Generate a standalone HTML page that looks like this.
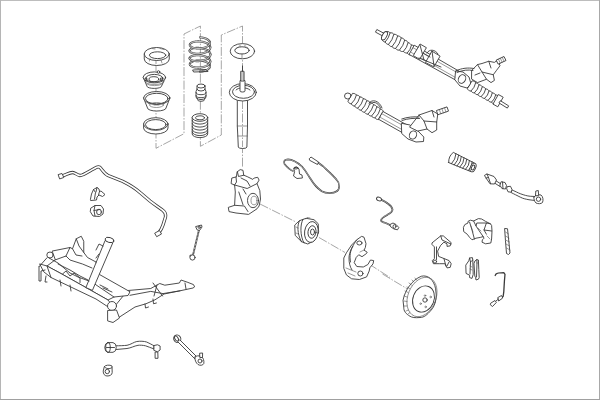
<!DOCTYPE html>
<html><head><meta charset="utf-8">
<style>
html,body{margin:0;padding:0;background:#fff;width:600px;height:400px;overflow:hidden}
svg{display:block}
.l{fill:#fff;stroke:#3a3a3a;stroke-width:0.9;stroke-linejoin:round;stroke-linecap:round}
.n{fill:none;stroke:#3a3a3a;stroke-width:0.9;stroke-linejoin:round;stroke-linecap:round}
.t{fill:none;stroke:#555;stroke-width:0.6;stroke-linecap:round}
.d{fill:none;stroke:#808080;stroke-width:0.7;stroke-dasharray:9 1.5 1.5 1.5}
</style></head><body>
<svg width="600" height="400" viewBox="0 0 600 400">
<!-- frame -->
<rect x="0" y="0" width="600" height="1" fill="#bdbdbd"/>
<rect x="0" y="0" width="1" height="400" fill="#b5b5b5"/>
<rect x="599" y="0" width="1" height="400" fill="#a8a8a8"/>
<rect x="0" y="399" width="600" height="1" fill="#a0a0a0"/>
<!-- dashed construction lines -->
<path class="d" d="M156 62V148.3L184 133.7V34L200.4 26V146.3L221.3 135V35L242.5 26V168"/>
<path class="d" d="M260 204L296 222M319 237.5L345 252.5M369 264L390 277.5"/>
<path class="d" d="M382.5 274L407.5 289"/>

<!-- Left stack: ring 1 -->
<g>
<path class="l" d="M144.25 54V59A12.5 6.5 0 0 0 169.25 59V54Z"/>
<ellipse class="l" cx="156.75" cy="54" rx="12.5" ry="6.5"/>
<ellipse class="n" cx="157.6" cy="55.2" rx="8.2" ry="3.4"/>
<path class="t" d="M152 48.5l3 0.5M160 48.5l4 1M156 60.5v3M161 60l1 3M150 59l-0.5 2"/>
</g>
<!-- mount 2 -->
<g>
<path class="l" d="M143.25 77.4L147.1 86.4A7.15 2 0 0 0 161.4 86.4L165.6 77.4Z"/>
<ellipse class="l" cx="154.4" cy="77.4" rx="11.2" ry="5.5"/>
<ellipse class="n" cx="154.4" cy="78.2" rx="8.5" ry="3.8"/>
<ellipse class="n" cx="153.9" cy="79.2" rx="4.9" ry="2.5"/>
<path class="n" d="M145.5 78h1.3v2.6h-1.3zM161 78h1.7v2.6H161z"/>
<circle class="l" cx="158.5" cy="72" r="1.3"/>
<path class="t" d="M147 84A8 2.5 0 0 0 162 84M145 81.5A9.5 3 0 0 0 164 81.5"/>
</g>
<!-- cup 3 -->
<g>
<path class="l" d="M143.6 98L147.5 108A9.2 3 0 0 0 166 108L169.9 98Z"/>
<ellipse class="l" cx="156.75" cy="98" rx="13.1" ry="6.5"/>
<ellipse class="n" cx="156.75" cy="98.6" rx="11.3" ry="5.3"/>
<ellipse class="t" cx="156.5" cy="105" rx="7" ry="2.5"/>
<path class="t" d="M149 104l-2 -3M164 104l2 -3M154 105h5"/>
</g>
<!-- ring 4 -->
<g>
<path class="l" d="M143.6 124V128A12.2 6 0 0 0 168 128V124Z"/>
<ellipse class="l" cx="155.8" cy="124" rx="12.2" ry="6.3"/>
<ellipse class="l" cx="155.8" cy="124.6" rx="10.3" ry="5"/>
</g>

<!-- spring -->
<g>
<path style="fill:none;stroke:#444;stroke-width:2.1;stroke-linecap:round" d="M200.00 37.40 L200.56 37.44 L201.12 37.49 L201.67 37.56 L202.22 37.64 L202.76 37.74 L203.30 37.85 L203.82 37.97 L204.33 38.11 L204.83 38.26 L205.32 38.43 L205.78 38.60 L206.23 38.79 L206.66 38.99 L207.07 39.21 L207.45 39.43 L207.82 39.66 L208.15 39.90 L208.46 40.15 L208.75 40.40 L209.01 40.67 L209.23 40.94 L209.43 41.21 L209.60 41.49 L209.74 41.78 L209.85 42.07 L209.92 42.36 L209.97 42.65M189.86 44.94 L189.86 44.72 L189.89 44.50 L189.96 44.29 L190.06 44.07 L190.19 43.86 L190.36 43.65 L190.55 43.45 L190.77 43.25 L191.03 43.06 L191.31 42.88 L191.62 42.70 L191.96 42.54 L192.32 42.38 L192.71 42.23 L193.12 42.09 L193.56 41.97 L194.01 41.85 L194.48 41.75 L194.98 41.66 L195.48 41.58 L196.01 41.52 L196.54 41.47 L197.09 41.43 L197.65 41.41 L198.21 41.41 L198.78 41.41 L199.36 41.44 L199.94 41.47 L200.51 41.53 L201.09 41.59 L201.66 41.68 L202.23 41.77 L202.79 41.88 L203.35 42.01 L203.89 42.15 L204.42 42.30 L204.93 42.47 L205.43 42.65 L205.92 42.85 L206.38 43.05 L206.83 43.27 L207.25 43.50 L207.65 43.74 L208.02 43.99 L208.37 44.24 L208.70 44.51 L208.99 44.79 L209.26 45.07 L209.50 45.36 L209.71 45.65 L209.88 45.95 L210.03 46.26 L210.14 46.57 L210.22 46.88 L210.27 47.19M189.63 50.85 L189.63 50.65 L189.67 50.45 L189.73 50.26 L189.83 50.07 L189.97 49.88 L190.13 49.70 L190.33 49.52 L190.55 49.34 L190.81 49.17 L191.10 49.01 L191.41 48.86 L191.76 48.72 L192.12 48.58 L192.52 48.45 L192.94 48.34 L193.38 48.23 L193.84 48.14 L194.32 48.06 L194.82 47.99 L195.34 47.93 L195.87 47.89 L196.42 47.86 L196.98 47.84 L197.54 47.84 L198.12 47.86 L198.70 47.88 L199.28 47.93 L199.87 47.98 L200.46 48.06 L201.04 48.14 L201.63 48.24 L202.20 48.36 L202.78 48.49 L203.34 48.63 L203.89 48.79 L204.43 48.96 L204.95 49.15 L205.46 49.35 L205.95 49.56 L206.43 49.78 L206.88 50.02 L207.31 50.26 L207.72 50.52 L208.10 50.79 L208.45 51.06 L208.78 51.35 L209.08 51.64 L209.36 51.94 L209.60 52.24 L209.81 52.56 L209.99 52.87 L210.14 53.19 L210.25 53.52 L210.34 53.84 L210.39 54.17 L210.40 54.50M189.63 58.35 L189.63 58.15 L189.66 57.96 L189.73 57.77 L189.83 57.57 L189.96 57.38 L190.12 57.20 L190.32 57.01 L190.54 56.84 L190.80 56.67 L191.08 56.50 L191.40 56.34 L191.74 56.20 L192.10 56.05 L192.50 55.92 L192.91 55.80 L193.35 55.69 L193.81 55.59 L194.29 55.50 L194.79 55.43 L195.30 55.36 L195.83 55.31 L196.37 55.28 L196.93 55.25 L197.49 55.24 L198.06 55.25 L198.64 55.27 L199.22 55.30 L199.81 55.35 L200.39 55.41 L200.97 55.48 L201.55 55.58 L202.13 55.68 L202.69 55.80 L203.25 55.93 L203.80 56.08 L204.34 56.24 L204.86 56.41 L205.36 56.60 L205.85 56.80 L206.32 57.01 L206.77 57.23 L207.20 57.46 L207.60 57.71 L207.98 57.96 L208.34 58.22 L208.66 58.49 L208.96 58.77 L209.23 59.06 L209.48 59.35 L209.69 59.64 L209.87 59.95 L210.01 60.25 L210.13 60.56 L210.21 60.87 L210.26 61.18 L210.28 61.50M189.86 64.28 L189.86 64.06 L189.89 63.84 L189.95 63.62 L190.04 63.40 L190.17 63.19 L190.33 62.98 L190.52 62.77 L190.73 62.57 L190.98 62.38 L191.26 62.19 L191.56 62.00 L191.89 61.83 L192.25 61.66 L192.63 61.51 L193.04 61.36 L193.46 61.22 L193.91 61.10 L194.38 60.99 L194.86 60.88 L195.36 60.80 L195.88 60.72 L196.41 60.66 L196.95 60.61 L197.49 60.57 L198.05 60.55 L198.61 60.54 L199.18 60.55 L199.75 60.57 L200.32 60.61 L200.88 60.66 L201.45 60.72 L202.01 60.80 L202.56 60.90 L203.10 61.01 L203.64 61.13 L204.16 61.26 L204.67 61.41 L205.16 61.57 L205.64 61.75 L206.10 61.94 L206.53 62.13 L206.95 62.34 L207.35 62.56 L207.72 62.79 L208.06 63.03 L208.38 63.28 L208.68 63.53 L208.94 63.79 L209.18 64.06 L209.38 64.34 L209.56 64.62 L209.71 64.90 L209.82 65.19 L209.91 65.48 L209.96 65.77 L209.98 66.06"/>
<path style="fill:none;stroke:#fff;stroke-width:0.9;stroke-linecap:round" d="M200.00 37.40 L200.56 37.44 L201.12 37.49 L201.67 37.56 L202.22 37.64 L202.76 37.74 L203.30 37.85 L203.82 37.97 L204.33 38.11 L204.83 38.26 L205.32 38.43 L205.78 38.60 L206.23 38.79 L206.66 38.99 L207.07 39.21 L207.45 39.43 L207.82 39.66 L208.15 39.90 L208.46 40.15 L208.75 40.40 L209.01 40.67 L209.23 40.94 L209.43 41.21 L209.60 41.49 L209.74 41.78 L209.85 42.07 L209.92 42.36 L209.97 42.65M189.86 44.94 L189.86 44.72 L189.89 44.50 L189.96 44.29 L190.06 44.07 L190.19 43.86 L190.36 43.65 L190.55 43.45 L190.77 43.25 L191.03 43.06 L191.31 42.88 L191.62 42.70 L191.96 42.54 L192.32 42.38 L192.71 42.23 L193.12 42.09 L193.56 41.97 L194.01 41.85 L194.48 41.75 L194.98 41.66 L195.48 41.58 L196.01 41.52 L196.54 41.47 L197.09 41.43 L197.65 41.41 L198.21 41.41 L198.78 41.41 L199.36 41.44 L199.94 41.47 L200.51 41.53 L201.09 41.59 L201.66 41.68 L202.23 41.77 L202.79 41.88 L203.35 42.01 L203.89 42.15 L204.42 42.30 L204.93 42.47 L205.43 42.65 L205.92 42.85 L206.38 43.05 L206.83 43.27 L207.25 43.50 L207.65 43.74 L208.02 43.99 L208.37 44.24 L208.70 44.51 L208.99 44.79 L209.26 45.07 L209.50 45.36 L209.71 45.65 L209.88 45.95 L210.03 46.26 L210.14 46.57 L210.22 46.88 L210.27 47.19M189.63 50.85 L189.63 50.65 L189.67 50.45 L189.73 50.26 L189.83 50.07 L189.97 49.88 L190.13 49.70 L190.33 49.52 L190.55 49.34 L190.81 49.17 L191.10 49.01 L191.41 48.86 L191.76 48.72 L192.12 48.58 L192.52 48.45 L192.94 48.34 L193.38 48.23 L193.84 48.14 L194.32 48.06 L194.82 47.99 L195.34 47.93 L195.87 47.89 L196.42 47.86 L196.98 47.84 L197.54 47.84 L198.12 47.86 L198.70 47.88 L199.28 47.93 L199.87 47.98 L200.46 48.06 L201.04 48.14 L201.63 48.24 L202.20 48.36 L202.78 48.49 L203.34 48.63 L203.89 48.79 L204.43 48.96 L204.95 49.15 L205.46 49.35 L205.95 49.56 L206.43 49.78 L206.88 50.02 L207.31 50.26 L207.72 50.52 L208.10 50.79 L208.45 51.06 L208.78 51.35 L209.08 51.64 L209.36 51.94 L209.60 52.24 L209.81 52.56 L209.99 52.87 L210.14 53.19 L210.25 53.52 L210.34 53.84 L210.39 54.17 L210.40 54.50M189.63 58.35 L189.63 58.15 L189.66 57.96 L189.73 57.77 L189.83 57.57 L189.96 57.38 L190.12 57.20 L190.32 57.01 L190.54 56.84 L190.80 56.67 L191.08 56.50 L191.40 56.34 L191.74 56.20 L192.10 56.05 L192.50 55.92 L192.91 55.80 L193.35 55.69 L193.81 55.59 L194.29 55.50 L194.79 55.43 L195.30 55.36 L195.83 55.31 L196.37 55.28 L196.93 55.25 L197.49 55.24 L198.06 55.25 L198.64 55.27 L199.22 55.30 L199.81 55.35 L200.39 55.41 L200.97 55.48 L201.55 55.58 L202.13 55.68 L202.69 55.80 L203.25 55.93 L203.80 56.08 L204.34 56.24 L204.86 56.41 L205.36 56.60 L205.85 56.80 L206.32 57.01 L206.77 57.23 L207.20 57.46 L207.60 57.71 L207.98 57.96 L208.34 58.22 L208.66 58.49 L208.96 58.77 L209.23 59.06 L209.48 59.35 L209.69 59.64 L209.87 59.95 L210.01 60.25 L210.13 60.56 L210.21 60.87 L210.26 61.18 L210.28 61.50M189.86 64.28 L189.86 64.06 L189.89 63.84 L189.95 63.62 L190.04 63.40 L190.17 63.19 L190.33 62.98 L190.52 62.77 L190.73 62.57 L190.98 62.38 L191.26 62.19 L191.56 62.00 L191.89 61.83 L192.25 61.66 L192.63 61.51 L193.04 61.36 L193.46 61.22 L193.91 61.10 L194.38 60.99 L194.86 60.88 L195.36 60.80 L195.88 60.72 L196.41 60.66 L196.95 60.61 L197.49 60.57 L198.05 60.55 L198.61 60.54 L199.18 60.55 L199.75 60.57 L200.32 60.61 L200.88 60.66 L201.45 60.72 L202.01 60.80 L202.56 60.90 L203.10 61.01 L203.64 61.13 L204.16 61.26 L204.67 61.41 L205.16 61.57 L205.64 61.75 L206.10 61.94 L206.53 62.13 L206.95 62.34 L207.35 62.56 L207.72 62.79 L208.06 63.03 L208.38 63.28 L208.68 63.53 L208.94 63.79 L209.18 64.06 L209.38 64.34 L209.56 64.62 L209.71 64.90 L209.82 65.19 L209.91 65.48 L209.96 65.77 L209.98 66.06"/>
<path style="fill:none;stroke:#444;stroke-width:2.1;stroke-linecap:round" d="M209.97 42.65 L209.98 42.94 L209.96 43.23 L209.91 43.52 L209.82 43.81 L209.71 44.10 L209.56 44.38 L209.38 44.66 L209.18 44.94 L208.94 45.21 L208.68 45.47 L208.38 45.72 L208.06 45.97 L207.72 46.21 L207.35 46.44 L206.95 46.66 L206.53 46.87 L206.10 47.06 L205.64 47.25 L205.16 47.43 L204.67 47.59 L204.16 47.74 L203.64 47.87 L203.10 47.99 L202.56 48.10 L202.01 48.20 L201.45 48.28 L200.88 48.34 L200.32 48.39 L199.75 48.43 L199.18 48.45 L198.61 48.46 L198.05 48.45 L197.49 48.43 L196.95 48.39 L196.41 48.34 L195.88 48.28 L195.36 48.20 L194.86 48.12 L194.38 48.01 L193.91 47.90 L193.46 47.78 L193.04 47.64 L192.63 47.49 L192.25 47.34 L191.89 47.17 L191.56 47.00 L191.26 46.81 L190.98 46.62 L190.73 46.43 L190.52 46.23 L190.33 46.02 L190.17 45.81 L190.04 45.60 L189.95 45.38 L189.89 45.16 L189.86 44.94M210.27 47.19 L210.28 47.50 L210.26 47.82 L210.21 48.13 L210.13 48.44 L210.01 48.75 L209.87 49.05 L209.69 49.36 L209.48 49.65 L209.23 49.94 L208.96 50.23 L208.66 50.51 L208.34 50.78 L207.98 51.04 L207.60 51.29 L207.20 51.54 L206.77 51.77 L206.32 51.99 L205.85 52.20 L205.36 52.40 L204.86 52.59 L204.34 52.76 L203.80 52.92 L203.25 53.07 L202.69 53.20 L202.13 53.32 L201.55 53.42 L200.97 53.52 L200.39 53.59 L199.81 53.65 L199.22 53.70 L198.64 53.73 L198.06 53.75 L197.49 53.76 L196.93 53.75 L196.37 53.72 L195.83 53.69 L195.30 53.64 L194.79 53.57 L194.29 53.50 L193.81 53.41 L193.35 53.31 L192.91 53.20 L192.50 53.08 L192.10 52.95 L191.74 52.80 L191.40 52.66 L191.08 52.50 L190.80 52.33 L190.54 52.16 L190.32 51.99 L190.12 51.80 L189.96 51.62 L189.83 51.43 L189.73 51.23 L189.66 51.04 L189.63 50.85M210.40 54.50 L210.39 54.83 L210.34 55.16 L210.25 55.48 L210.14 55.81 L209.99 56.13 L209.81 56.44 L209.60 56.76 L209.36 57.06 L209.08 57.36 L208.78 57.65 L208.45 57.94 L208.10 58.21 L207.72 58.48 L207.31 58.74 L206.88 58.98 L206.43 59.22 L205.95 59.44 L205.46 59.65 L204.95 59.85 L204.43 60.04 L203.89 60.21 L203.34 60.37 L202.78 60.51 L202.20 60.64 L201.63 60.76 L201.04 60.86 L200.46 60.94 L199.87 61.02 L199.28 61.07 L198.70 61.12 L198.12 61.14 L197.54 61.16 L196.98 61.16 L196.42 61.14 L195.87 61.11 L195.34 61.07 L194.82 61.01 L194.32 60.94 L193.84 60.86 L193.38 60.77 L192.94 60.66 L192.52 60.55 L192.12 60.42 L191.76 60.28 L191.41 60.14 L191.10 59.99 L190.81 59.83 L190.55 59.66 L190.33 59.48 L190.13 59.30 L189.97 59.12 L189.83 58.93 L189.73 58.74 L189.67 58.55 L189.63 58.35M210.28 61.50 L210.27 61.81 L210.22 62.12 L210.14 62.43 L210.03 62.74 L209.88 63.05 L209.71 63.35 L209.50 63.64 L209.26 63.93 L208.99 64.21 L208.70 64.49 L208.37 64.76 L208.02 65.01 L207.65 65.26 L207.25 65.50 L206.83 65.73 L206.38 65.95 L205.92 66.15 L205.43 66.35 L204.93 66.53 L204.42 66.70 L203.89 66.85 L203.35 66.99 L202.79 67.12 L202.23 67.23 L201.66 67.32 L201.09 67.41 L200.51 67.47 L199.94 67.53 L199.36 67.56 L198.78 67.59 L198.21 67.59 L197.65 67.59 L197.09 67.57 L196.54 67.53 L196.01 67.48 L195.48 67.42 L194.98 67.34 L194.48 67.25 L194.01 67.15 L193.56 67.03 L193.12 66.91 L192.71 66.77 L192.32 66.62 L191.96 66.46 L191.62 66.30 L191.31 66.12 L191.03 65.94 L190.77 65.75 L190.55 65.55 L190.36 65.35 L190.19 65.14 L190.06 64.93 L189.96 64.71 L189.89 64.50 L189.86 64.28M209.98 66.06 L209.97 66.35 L209.92 66.64 L209.85 66.93 L209.74 67.22 L209.60 67.51 L209.43 67.79 L209.23 68.06 L209.01 68.33 L208.75 68.60 L208.46 68.85 L208.15 69.10 L207.82 69.34 L207.45 69.57 L207.07 69.79 L206.66 70.01 L206.23 70.21 L205.78 70.40 L205.32 70.57 L204.83 70.74 L204.33 70.89 L203.82 71.03 L203.30 71.15 L202.76 71.26 L202.22 71.36 L201.67 71.44 L201.12 71.51 L200.56 71.56 L200.00 71.60"/>
<path style="fill:none;stroke:#fff;stroke-width:0.9;stroke-linecap:round" d="M209.97 42.65 L209.98 42.94 L209.96 43.23 L209.91 43.52 L209.82 43.81 L209.71 44.10 L209.56 44.38 L209.38 44.66 L209.18 44.94 L208.94 45.21 L208.68 45.47 L208.38 45.72 L208.06 45.97 L207.72 46.21 L207.35 46.44 L206.95 46.66 L206.53 46.87 L206.10 47.06 L205.64 47.25 L205.16 47.43 L204.67 47.59 L204.16 47.74 L203.64 47.87 L203.10 47.99 L202.56 48.10 L202.01 48.20 L201.45 48.28 L200.88 48.34 L200.32 48.39 L199.75 48.43 L199.18 48.45 L198.61 48.46 L198.05 48.45 L197.49 48.43 L196.95 48.39 L196.41 48.34 L195.88 48.28 L195.36 48.20 L194.86 48.12 L194.38 48.01 L193.91 47.90 L193.46 47.78 L193.04 47.64 L192.63 47.49 L192.25 47.34 L191.89 47.17 L191.56 47.00 L191.26 46.81 L190.98 46.62 L190.73 46.43 L190.52 46.23 L190.33 46.02 L190.17 45.81 L190.04 45.60 L189.95 45.38 L189.89 45.16 L189.86 44.94M210.27 47.19 L210.28 47.50 L210.26 47.82 L210.21 48.13 L210.13 48.44 L210.01 48.75 L209.87 49.05 L209.69 49.36 L209.48 49.65 L209.23 49.94 L208.96 50.23 L208.66 50.51 L208.34 50.78 L207.98 51.04 L207.60 51.29 L207.20 51.54 L206.77 51.77 L206.32 51.99 L205.85 52.20 L205.36 52.40 L204.86 52.59 L204.34 52.76 L203.80 52.92 L203.25 53.07 L202.69 53.20 L202.13 53.32 L201.55 53.42 L200.97 53.52 L200.39 53.59 L199.81 53.65 L199.22 53.70 L198.64 53.73 L198.06 53.75 L197.49 53.76 L196.93 53.75 L196.37 53.72 L195.83 53.69 L195.30 53.64 L194.79 53.57 L194.29 53.50 L193.81 53.41 L193.35 53.31 L192.91 53.20 L192.50 53.08 L192.10 52.95 L191.74 52.80 L191.40 52.66 L191.08 52.50 L190.80 52.33 L190.54 52.16 L190.32 51.99 L190.12 51.80 L189.96 51.62 L189.83 51.43 L189.73 51.23 L189.66 51.04 L189.63 50.85M210.40 54.50 L210.39 54.83 L210.34 55.16 L210.25 55.48 L210.14 55.81 L209.99 56.13 L209.81 56.44 L209.60 56.76 L209.36 57.06 L209.08 57.36 L208.78 57.65 L208.45 57.94 L208.10 58.21 L207.72 58.48 L207.31 58.74 L206.88 58.98 L206.43 59.22 L205.95 59.44 L205.46 59.65 L204.95 59.85 L204.43 60.04 L203.89 60.21 L203.34 60.37 L202.78 60.51 L202.20 60.64 L201.63 60.76 L201.04 60.86 L200.46 60.94 L199.87 61.02 L199.28 61.07 L198.70 61.12 L198.12 61.14 L197.54 61.16 L196.98 61.16 L196.42 61.14 L195.87 61.11 L195.34 61.07 L194.82 61.01 L194.32 60.94 L193.84 60.86 L193.38 60.77 L192.94 60.66 L192.52 60.55 L192.12 60.42 L191.76 60.28 L191.41 60.14 L191.10 59.99 L190.81 59.83 L190.55 59.66 L190.33 59.48 L190.13 59.30 L189.97 59.12 L189.83 58.93 L189.73 58.74 L189.67 58.55 L189.63 58.35M210.28 61.50 L210.27 61.81 L210.22 62.12 L210.14 62.43 L210.03 62.74 L209.88 63.05 L209.71 63.35 L209.50 63.64 L209.26 63.93 L208.99 64.21 L208.70 64.49 L208.37 64.76 L208.02 65.01 L207.65 65.26 L207.25 65.50 L206.83 65.73 L206.38 65.95 L205.92 66.15 L205.43 66.35 L204.93 66.53 L204.42 66.70 L203.89 66.85 L203.35 66.99 L202.79 67.12 L202.23 67.23 L201.66 67.32 L201.09 67.41 L200.51 67.47 L199.94 67.53 L199.36 67.56 L198.78 67.59 L198.21 67.59 L197.65 67.59 L197.09 67.57 L196.54 67.53 L196.01 67.48 L195.48 67.42 L194.98 67.34 L194.48 67.25 L194.01 67.15 L193.56 67.03 L193.12 66.91 L192.71 66.77 L192.32 66.62 L191.96 66.46 L191.62 66.30 L191.31 66.12 L191.03 65.94 L190.77 65.75 L190.55 65.55 L190.36 65.35 L190.19 65.14 L190.06 64.93 L189.96 64.71 L189.89 64.50 L189.86 64.28M209.98 66.06 L209.97 66.35 L209.92 66.64 L209.85 66.93 L209.74 67.22 L209.60 67.51 L209.43 67.79 L209.23 68.06 L209.01 68.33 L208.75 68.60 L208.46 68.85 L208.15 69.10 L207.82 69.34 L207.45 69.57 L207.07 69.79 L206.66 70.01 L206.23 70.21 L205.78 70.40 L205.32 70.57 L204.83 70.74 L204.33 70.89 L203.82 71.03 L203.30 71.15 L202.76 71.26 L202.22 71.36 L201.67 71.44 L201.12 71.51 L200.56 71.56 L200.00 71.60"/>
<path class="n" d="M193 70L206 69.5L208 71.5L194 72Z"/>
</g>

<!-- bump stop -->
<g>
<path class="l" d="M197 86V89L196 91.5V97L197.5 99.5A3.5 1.8 0 0 0 204.5 99.5L206 97V91.5L205 89V86Z"/>
<ellipse class="l" cx="201" cy="86" rx="4" ry="2"/>
<path class="n" d="M197 89A4 2 0 0 0 205 89M196 92.5A5 2.2 0 0 0 206 92.5M196 95.5A5 2.2 0 0 0 206 95.5M196.8 98A4.3 2 0 0 0 205.2 98"/>
</g>
<!-- dust boot -->
<g>
<path class="l" d="M192.2 117.5V134A7.75 3.6 0 0 0 207.7 134V117.5Z"/>
<ellipse class="l" cx="199.95" cy="117.5" rx="7.75" ry="3.8"/>
<ellipse class="n" cx="199.95" cy="117.8" rx="4.5" ry="2"/>
<path class="n" d="M192.2 120.5A7.75 3.6 0 0 0 207.7 120.5M192.2 123.5A7.75 3.6 0 0 0 207.7 123.5M192.2 126.5A7.75 3.6 0 0 0 207.7 126.5M192.2 129.5A7.75 3.6 0 0 0 207.7 129.5M192.2 132A7.75 3.6 0 0 0 207.7 132"/>
</g>

<!-- right seat ring -->
<g>
<ellipse class="l" cx="242.4" cy="51.2" rx="12.2" ry="7.6"/>
<ellipse class="n" cx="242" cy="50.4" rx="7.2" ry="3.6"/>
<path class="t" d="M236 49l2 -2M247 47l1.5 2M240 46.8l0 -1.5M245 46.8l0 -1.5M242 53.8v4"/>
</g>

<!-- strut -->
<g>
<path class="l" d="M237.3 97V126L237.8 136L238.3 147A4.3 1.5 0 0 0 246.9 147L247.2 136L247.5 126V97Z"/>
<path class="t" d="M237.3 126H247.5M237.8 136H247.2"/><path class="d" d="M242.5 100V147"/>
<ellipse class="l" cx="242.8" cy="92.3" rx="13.5" ry="8.7"/>
<ellipse class="n" cx="243.5" cy="91.8" rx="11" ry="6.5"/>
<path class="n" d="M236 90C238 87 247 87 250 90"/>
<path class="l" d="M240 81V91A2.5 1 0 0 0 245 91V81Z"/>
<path class="l" d="M241.1 71.25H244V81H241.1Z"/>
<path class="t" d="M241.1 73H244M241.1 75H244M241.1 77H244M241.1 79H244"/>
<path class="n" d="M242.5 66V71.25"/>
</g>

<!-- knuckle -->
<g>
<path class="l" d="M237.4 171.7L240.2 169.6L243 170.3L243.7 175.2L247.2 176.6L252.8 179.4L254.2 178L257.7 177.3L259.1 180.1L257 183.6L259.8 190.6L260.5 199L259.1 206L257 208.8L248.6 214.4L236 213L229 211.6L228.3 207.4L234.6 205.3L235.3 192L234.6 185L231.1 183.6L231.8 178L236 177Z"/>
<path class="n" d="M237.4 171.7L238.5 176.5L243.7 175.2M236 177L236.5 182L234.6 185M234.6 185L247.2 188.5L257 183.6M238.8 192L243 204.6M234.6 205.3L244.4 206L248 211.6M243 189L246 194"/>
<ellipse class="l" cx="253" cy="200.5" rx="5.5" ry="7.2"/>
<ellipse class="t" cx="254" cy="200.5" rx="3" ry="4.3"/>
<path class="n" d="M241 178L247 181L250 186"/>
</g>

<!-- ABS sensor -->
<g>
<path class="n" style="stroke-width:1.6" d="M293 171C290 170 287 167 284.5 164C283 161 285 159.5 288 159.4C292 159.5 298 163 302 166.5C306 171 308 175 310.5 178.75C313 183 317 188 321.75 191.25C326 193.5 333 194 336.75 191.25C340 189 340 183 336.75 180C334 176 327 170 323 166.25L318 162.5"/>
<path class="n" style="stroke:#fff;stroke-width:0.5" d="M293 171C290 170 287 167 284.5 164C283 161 285 159.5 288 159.4C292 159.5 298 163 302 166.5C306 171 308 175 310.5 178.75C313 183 317 188 321.75 191.25C326 193.5 333 194 336.75 191.25C340 189 340 183 336.75 180C334 176 327 170 323 166.25L318 162.5"/>
<path class="l" d="M309.5 158.5L311 157L318.5 162L317.5 164.5L310 160.5Z"/>
<path class="l" d="M294 168L297 167L299 169L299.5 174L302 175L302.4 178L297 178.5L293.5 176L294.5 172Z"/>
<ellipse class="n" cx="296" cy="168" rx="1.8" ry="1"/>
</g>

<!-- hub -->
<g>
<path class="l" d="M299.7 220.6L306 218.3L314 219.7L318.2 223.7L318.6 231.8L314 240.8L307.8 244L301.5 241.7L295.2 235.4L294.75 225.5Z"/>
<path class="n" d="M299.7 220.6C297 224 297 234 301.5 241.7M303 219.5C300 224 300 236 304 243"/>
<ellipse class="l" cx="311.4" cy="232" rx="6.8" ry="10.5" transform="rotate(8 311.4 232)"/>
<ellipse class="n" cx="312" cy="232" rx="4" ry="6.3" transform="rotate(8 312 232)"/>
<ellipse class="n" cx="312.5" cy="232" rx="2" ry="3"/>
<path class="t" d="M306 219l1-1.5 3 0.5M296 227l2 1M296 233l2 1"/>
</g>

<!-- dust shield -->
<g>
<path class="l" d="M362 236.5L364 237.2L366 243.7L365.3 247.6L364 250.2L367.2 252.2L366.5 253.5L362 256.7L358.75 254.75L356.2 257.4L354.2 262.6L356.8 266.5L363.3 267L367.9 264.5L370.5 260L373.7 260.6L373 263.9L369.8 267.8L369.2 271L366.6 276.9L359.4 279.5L351.6 278.8L346.4 274.9L343.8 268.4L343.8 258L346.4 252.8L351.6 245L356.8 239.8Z"/>
<path class="n" d="M356.8 239.8C353 245 349 252 349 258C349 263 350 267 352 270M352.9 246.3C350 251 349.5 256 350.5 262"/>
<ellipse class="n" cx="359.4" cy="243" rx="2.6" ry="2"/>
<ellipse class="n" cx="360.4" cy="273.5" rx="2.6" ry="2.5"/>
<path class="t" d="M346 268L356 272M348 273L355 276M364 250L360 252"/>
</g>

<!-- brake hose -->
<g>
<path class="n" style="stroke-width:1.7" d="M381.5 199.9C384 201 386 202 387.75 203.5C390 205 392 207 392.5 209.5C392.5 212 390 213.5 387.75 214.6C384 216.5 381 218 381 220.4C381.5 222 383.5 222.5 385.7 223L391 225.6"/>
<path class="n" style="stroke:#fff;stroke-width:0.5" d="M381.5 199.9C384 201 386 202 387.75 203.5C390 205 392 207 392.5 209.5C392.5 212 390 213.5 387.75 214.6C384 216.5 381 218 381 220.4C381.5 222 383.5 222.5 385.7 223L391 225.6"/>
<ellipse class="l" cx="379" cy="199" rx="2.6" ry="1.8" transform="rotate(25 379 199)"/>
<path class="l" d="M390 224.5L393 223L396 224.5L398.8 227.5L397.5 229.8L394 229L391 227Z"/>
<ellipse class="n" cx="394.5" cy="226.5" rx="1.5" ry="1.8"/>
</g>

<!-- caliper -->
<g>
<path class="l" d="M463.6 227L464.8 224.6L468 223L468 221.4L470.4 220.2L473.6 221L478.4 218.6L481.6 219L485.6 221.4L490.4 223.8L491.6 225.4L492 231L491.6 239L490.8 243L485.6 243.8L482 242.2L482.4 239.8L484 238.2L483.2 236.6L480.4 237.4L476 238.2L472 239.8L469.6 237.4L467.2 234.2L464 231.8Z"/>
<path class="n" d="M469.6 222.2L472 230L474.4 239M473.6 221L476 226L476.8 223L486.4 223L484 230L486.4 234.2M476 226L480 232L483.2 236.6M486.4 223L490.4 223.8M484 230L491.6 231"/>
<path class="t" d="M471 226l2 6M478 228l3 3M487 236l3 3"/>
</g>
<!-- caliper bracket -->
<g>
<path class="l" d="M432.3 242.7L440.7 235.9L443.3 235.9L451.2 242.7L450.2 245.9L447 246.4L447 243.8L443.9 242.2L440.7 245.3L437.6 251.1L438.6 256.4L443.9 258.5L449.1 260.6L451.2 263.7L450.2 267.4L447 267.9L444.9 263.7L439.7 263.7L433.4 263.7L432.3 260.6L434.4 258.5L434.4 246.9L432.3 244.8Z"/>
<path class="n" d="M436.5 246.9V259.5M440.7 235.9L442 240L451 244M443.9 258.5L446 266M449 262L447 266"/>
<circle class="n" cx="435" cy="261.6" r="1.6"/>
</g>
<!-- pads -->
<g>
<path class="l" d="M466 264.8L468.8 260.8L469.6 258L472.4 257.6L472.8 260L473.2 274.4L472 278.4L469.6 277.6L469.6 275.2L466.4 273.6Z"/>
<path class="l" d="M475.2 260.8L476.8 259.6L478.4 260L478.8 269.6L479.2 277.6L478.4 279.2L476 280L475.6 277.6L474.8 276L474 264Z"/>
<path class="n" d="M469.6 258L470.5 262L472.8 260M476.8 259.6L477 263M470.5 262L470 274M477 263L476.5 277"/>
<path class="t" d="M470 266l2 1M470 269l2 1"/>
</g>
<!-- clip -->
<g>
<path class="l" d="M505 228.5L507.5 228.75L510 253L508.5 254.5L506.5 253.5L505.5 241Z"/>
<path class="t" d="M505.5 232l3 2M505.5 236l3.5 2M505.5 240l4 2M506 244l3.5 2M506.5 248l3.5 2"/>
</g>
<!-- wear sensor -->
<g>
<path class="n" style="stroke-width:1.3" d="M495.2 275.5L495.8 274.3C497 273 499 272.6 503.8 272.6L505 274.3L504.4 281.2L503.8 291.6L503.2 296.2L501 298.5"/>
<path class="l" d="M498 297.5L501.5 295.5L502.7 298L499 300.8Z"/>
<path class="n" d="M498.5 299L496 301"/>
<path class="l" d="M491 303L495 300.5L496.3 302.5L492.5 306.5L490.6 305Z"/>
</g>

<!-- disc -->
<g>
<path class="l" d="M403.1 300C405 290 412 280 421.25 276.25C428 274.5 434 280 435.6 288.75L436.25 295C436 302 434 307 431.25 310C427 315 424 317.5 420 317.5C415 318 412 317.5 410 316.25C406 314 403.5 311 403.75 307.5Z"/>
<ellipse class="t" cx="422" cy="297" rx="14" ry="20.5" transform="rotate(22 422 297)"/>
<path class="t" d="M404 296l3 1M405 291l3 1.5M407 287l2.5 1.5M409 283l2.5 2M412 280l2 2M415 278l1.5 2M404 301l3 0.5M404 306l3 0M406 311l2.5 -1M408 314l2 -1.5"/>
<ellipse class="n" cx="423.5" cy="299" rx="10.5" ry="13.5" transform="rotate(22 423.5 299)"/>

<circle class="n" cx="425" cy="300" r="2.2"/>
<circle class="t" cx="425" cy="295.6" r="0.8"/><circle class="t" cx="430.6" cy="297" r="0.8"/><circle class="t" cx="420.6" cy="303.7" r="0.8"/><circle class="t" cx="425.6" cy="306.9" r="0.8"/>
</g>

<!-- boot (tie rod) -->
<g>
<path class="l" d="M448.7 162.6L471.1 171.7L474.9 163.3L453.3 152.4Q448.3 156.3 448.7 162.6Z"/>
<path class="n" d="M451.5 163.7Q455.6 159.6 456.0 153.8M454.3 164.9Q458.3 160.8 458.7 155.1M457.1 166.0Q461.1 162.1 461.4 156.5M459.9 167.1Q463.8 163.3 464.1 157.9M462.7 168.3Q466.6 164.6 466.8 159.2M465.5 169.4Q469.3 165.8 469.5 160.6M468.3 170.6Q472.1 167.1 472.2 161.9"/>
<ellipse class="l" cx="473.0" cy="167.5" rx="2.6" ry="4.6" transform="rotate(24.4 473.0 167.5)"/>
<ellipse class="n" cx="473.0" cy="167.5" rx="1.4" ry="2.6" transform="rotate(24.4 473.0 167.5)"/>
</g>
<!-- tie rod -->
<g>
<path class="l" d="M511.5 189.8C515 191 518 193 520.8 193.9C524 195 527 196 530.2 196.25L535 196.5L535 200.5L529 199.75C525 199 523 198.5 520.8 197.4C517 195.5 514 194 511.5 192.75Z"/>
<path class="l" d="M495.5 180.5L501 184L500 186.5L494.5 183Z"/>
<path class="l" d="M501.5 181.8L505 182.5L506.5 185.5L505.5 189L502 188.6L500 185.5Z"/>
<path class="n" d="M502.5 182L503 188.5"/>
<path class="l" d="M507.6 186.6L510.5 186.3L512 189.5L511.3 192.2L508 191.8L506.8 189Z"/>
<path class="l" d="M484.8 175.2L487 174L494 176.5L496.5 180L494.5 184L490 183.8L486 178Z"/>
<path class="n" d="M487 174L488.5 177.5L486 178M488.5 177.5L490.5 183.5"/>
<path class="l" d="M534 197C535 195 538 194.3 541 195C543 196.5 543.5 200 542.5 202.5C541 204 538 204 536 203C534.5 201.5 533.5 199 534 197Z"/>
<path class="l" d="M535.5 195.5L535.8 191L538.3 190.5L538.6 195.2Z"/>
<ellipse class="n" cx="538.5" cy="199.2" rx="2.2" ry="2.2"/>
</g>

<!-- upper rack -->
<g>
<path class="l" d="M375.8 32.3 L383.3 36.3 L384.7 33.7 L377.2 29.7 Z"/>
<path class="l" d="M381.9 39.5 L382.4 40.3 L382.9 41.0 L383.6 41.5 L384.4 41.8 L385.2 42.0 L385.7 42.8 L386.3 43.5 L386.9 44.0 L387.7 44.3 L388.6 44.4 L389.1 45.2 L389.7 45.8 L390.4 46.3 L391.2 46.5 L392.1 46.6 L392.6 47.3 L393.2 47.9 L394.0 48.3 L394.8 48.4 L395.7 48.5 L396.3 49.1 L396.9 49.7 L397.7 50.0 L398.6 50.1 L399.5 50.1 L400.1 50.7 L400.8 51.2 L401.6 51.5 L402.5 51.5 L403.4 51.5 L404.0 52.1 L404.7 52.5 L405.5 52.8 L406.4 53.0 L407.3 53.0 L407.8 53.7 L408.4 54.3 L409.2 54.7 L410.0 54.9 L410.9 55.0 L415.1 47.0 L414.6 46.3 L413.9 45.8 L413.2 45.4 L412.4 45.2 L411.5 45.1 L410.9 44.4 L410.3 43.8 L409.7 43.3 L408.9 42.9 L408.1 42.7 L407.6 41.9 L407.0 41.2 L406.4 40.7 L405.6 40.5 L404.7 40.3 L404.2 39.5 L403.6 38.8 L403.0 38.4 L402.2 38.1 L401.3 38.0 L400.8 37.3 L400.1 36.7 L399.4 36.3 L398.6 36.1 L397.7 36.0 L397.1 35.4 L396.5 34.8 L395.7 34.5 L394.9 34.3 L393.9 34.3 L393.3 33.7 L392.7 33.2 L391.9 32.9 L391.0 32.8 L390.1 32.9 L389.4 32.3 L388.8 31.8 L388.0 31.6 L387.1 31.5 L386.1 31.5Z"/><path class="n" d="M385.2 42.0Q388.9 38.1 390.1 32.9M388.6 44.4Q392.6 40.1 393.9 34.3M392.1 46.6Q396.2 42.0 397.7 36.0M395.7 48.5Q399.8 44.0 401.3 38.0M399.5 50.1Q403.4 45.9 404.7 40.3M403.4 51.5Q407.1 47.8 408.1 42.7M407.3 53.0Q410.7 49.8 411.5 45.1"/>
<ellipse class="l" cx="384.5" cy="35.8" rx="2.2" ry="4.6" transform="rotate(28.2 384.5 35.8)"/>
<path class="l" d="M409.4 54.6 L455.7 80.1 L460.3 71.9 L414.6 45.4 Z"/>
<path class="t" d="M413.2 47.8L459.2 73.8M410.8 52.2L456.8 78.2"/>
<path class="l" d="M413.6 55.8 L419.6 59.3 L426.4 47.7 L420.4 44.2 Z"/>
<path class="l" d="M425.8 62.7 L433.9 66.9 L440.1 56.1 L432.2 51.3 Z"/>
<path class="n" d="M427 53C429 49 435 49 438 54M420 45L424 60M432 51L434 66M423 53L430 57M419 58L441 67"/>
<path class="l" d="M456 71L463 72L469 77L471 84L467 88L460 86L455 80Z"/>
<ellipse class="n" cx="462.0" cy="79.0" rx="3.5" ry="4.5" transform="rotate(30.0 462.0 79.0)"/>
<path class="l" d="M471.9 70.25L477.5 64.6L482 63.5L488.75 61.25L494.4 62.4L497.75 60.1L500 65.75L496.6 70.25L493.25 74.75L494.4 80.4L491 82.6L486.5 79.25L477.5 82.6L471.9 79.25Z"/>
<path class="n" d="M477.5 64.6L482 72L486.5 79.25M482 72L493.25 74.75M488.75 61.25L491 68M475 75L480 73"/>
<path class="l" d="M498.5 64.0 L506.0 60.5 L504.0 56.5 L496.5 60.0 Z"/>
<path class="t" d="M500.3 63.2L498.4 59.1M502.2 62.3L500.3 58.2M504.1 61.4L502.2 57.3"/>
<path class="n" d="M456 70.8C462 68 468 67.5 474 68.5M457 72.5C463 70 468 69.5 473 70.5"/>
<path class="l" d="M467.6 89.1 L468.1 89.8 L468.7 90.4 L469.4 90.7 L470.2 90.9 L471.1 91.0 L471.6 91.7 L472.1 92.2 L472.8 92.6 L473.6 92.8 L474.5 92.8 L475.0 93.5 L475.6 94.1 L476.2 94.4 L477.0 94.6 L477.9 94.7 L478.4 95.4 L479.0 95.9 L479.7 96.3 L480.5 96.5 L481.3 96.5 L481.8 97.2 L482.4 97.8 L483.1 98.2 L483.9 98.3 L484.7 98.4 L485.3 99.1 L485.8 99.6 L486.5 100.0 L487.3 100.2 L488.2 100.3 L488.7 100.9 L489.2 101.5 L489.9 101.9 L490.7 102.0 L491.6 102.1 L492.1 102.8 L492.7 103.4 L493.4 103.7 L494.1 103.9 L495.0 104.0 L499.0 97.0 L498.5 96.3 L497.9 95.7 L497.3 95.3 L496.5 95.1 L495.7 95.0 L495.2 94.3 L494.6 93.7 L494.0 93.3 L493.2 93.1 L492.3 93.0 L491.8 92.3 L491.3 91.7 L490.6 91.3 L489.8 91.1 L489.0 91.0 L488.5 90.3 L488.0 89.7 L487.3 89.3 L486.5 89.1 L485.7 89.0 L485.2 88.2 L484.6 87.7 L484.0 87.2 L483.2 87.0 L482.3 86.9 L481.9 86.2 L481.3 85.6 L480.6 85.2 L479.9 85.0 L479.0 84.9 L478.5 84.2 L478.0 83.6 L477.3 83.2 L476.5 83.0 L475.7 82.9 L475.2 82.2 L474.6 81.6 L474.0 81.2 L473.2 81.0 L472.4 80.9Z"/><path class="n" d="M471.1 91.0Q474.7 87.7 475.7 82.9M474.5 92.8Q478.1 89.6 479.0 84.9M477.9 94.7Q481.4 91.6 482.3 86.9M481.3 96.5Q484.8 93.5 485.7 89.0M484.7 98.4Q488.2 95.4 489.0 91.0M488.2 100.3Q491.6 97.4 492.3 93.0M491.6 102.1Q494.9 99.3 495.7 95.0"/>
<path class="l" d="M493.3 104.3 L497.8 106.8 L503.2 97.2 L498.7 94.7 Z"/>
<path class="l" d="M499.3 103.1 L507.3 108.1 L508.7 105.9 L500.7 100.9 Z"/>
</g>
<!-- lower rack -->
<g>
<ellipse class="l" cx="347.8" cy="96.0" rx="3.3" ry="3.0" transform="rotate(0.0 347.8 96.0)"/>
<path class="l" d="M348.1 101.6 L348.6 102.4 L349.2 103.1 L350.0 103.5 L350.9 103.8 L351.6 104.3 L352.2 105.0 L352.9 105.6 L353.8 105.9 L354.7 106.1 L355.2 106.9 L355.9 107.5 L356.7 107.9 L357.6 108.1 L358.3 108.7 L358.9 109.4 L359.6 109.9 L360.5 110.1 L361.4 110.4 L362.0 111.2 L362.6 111.8 L363.5 112.1 L364.4 112.2 L365.1 112.8 L365.7 113.5 L366.5 113.9 L367.4 114.1 L368.3 114.4 L368.9 115.1 L369.6 115.6 L370.5 115.9 L371.5 116.0 L372.1 116.7 L372.8 117.3 L373.6 117.6 L374.5 117.8 L375.3 118.2 L375.9 118.8 L376.7 119.3 L377.6 119.5 L378.6 119.6 L383.4 111.4 L382.9 110.6 L382.3 109.9 L381.5 109.5 L380.6 109.2 L379.9 108.7 L379.3 108.0 L378.6 107.4 L377.7 107.1 L376.8 106.9 L376.3 106.1 L375.6 105.5 L374.8 105.1 L373.9 104.9 L373.2 104.3 L372.6 103.6 L371.9 103.1 L371.0 102.9 L370.1 102.6 L369.5 101.8 L368.9 101.2 L368.0 100.9 L367.1 100.8 L366.4 100.2 L365.8 99.5 L365.0 99.1 L364.1 98.9 L363.2 98.6 L362.6 97.9 L361.9 97.4 L361.0 97.1 L360.0 97.0 L359.4 96.3 L358.7 95.7 L357.9 95.4 L357.0 95.2 L356.2 94.8 L355.6 94.2 L354.8 93.7 L353.9 93.5 L352.9 93.4Z"/><path class="n" d="M351.3 103.8Q355.2 100.3 356.4 95.2M354.6 106.0Q358.6 102.3 359.9 97.0M357.9 108.2Q362.0 104.3 363.4 98.8M361.3 110.2Q365.3 106.3 366.8 100.8M364.7 112.2Q368.7 108.3 370.2 102.8M368.1 114.2Q372.1 110.3 373.6 104.8M371.6 116.0Q375.5 112.3 376.9 107.0M375.1 117.8Q378.9 114.3 380.2 109.2"/>
<path class="n" d="M369 103C372 99 379 100 382 108M370.5 104C373 101 378 102 380.5 108"/>
<path class="l" d="M378.8 119.4 L402.8 132.9 L407.2 125.1 L383.2 111.6 Z"/>
<path class="t" d="M382.0 113.8L406.0 127.3M380.0 117.2L404.0 130.7"/>
<path class="l" d="M401.7 123.3L410 125L418 131L423.8 137L423.5 141.5L416 142L408 139L402 133.8Z"/>
<ellipse class="n" cx="413.0" cy="135.0" rx="3.5" ry="4.2" transform="rotate(30.0 413.0 135.0)"/>
<path class="l" d="M409.8 126.8L419 115L432 110.5L437.8 114L436.7 122L436.7 130L432 132.7L427 129L418 131Z"/>
<path class="n" d="M419 115L424 121L427 129M424 121L436.7 122M432 110.5L434 117"/>
<path class="l" d="M438.2 114.6 L448.5 111.1 L447.0 106.9 L436.8 110.4 Z"/>
<path class="t" d="M440.8 113.8L439.3 109.5M443.4 112.9L441.9 108.6M445.9 112.0L444.5 107.7"/>
<path class="n" d="M401.7 119C407 117 414 116.5 419 117M402 120.5C408 118.5 414 118 419.5 118.5"/>
</g>

<!-- sway bar -->
<g>
<path style="fill:none;stroke:#3a3a3a;stroke-width:3.3;stroke-linecap:round;stroke-linejoin:round" d="M62 176C66 175 69 172.5 72.5 172.5C75 172.5 77 175 80 175.5C84 175.5 92 169 97.5 167C99 166.5 100 167 101 168.5C103 171 105 174 108 175.5L122.5 181.25C130 185 135 188 140 192.5L150 201C155 205 160 208 163 210.5C165.5 212.5 166 214.5 165.5 217L163 225C162 228 161 230 159 232.5"/>
<path style="fill:none;stroke:#fff;stroke-width:1.7;stroke-linecap:round;stroke-linejoin:round" d="M62 176C66 175 69 172.5 72.5 172.5C75 172.5 77 175 80 175.5C84 175.5 92 169 97.5 167C99 166.5 100 167 101 168.5C103 171 105 174 108 175.5L122.5 181.25C130 185 135 188 140 192.5L150 201C155 205 160 208 163 210.5C165.5 212.5 166 214.5 165.5 217L163 225C162 228 161 230 159 232.5"/>
<path class="l" d="M58.5 174.5L62 173.5L63.8 177.5L60 178.8Z"/>
<path class="l" d="M155 233L159.5 230.5L161.5 234L157 236.5Z"/>
</g>

<!-- bushing bracket -->
<g>
<path class="l" d="M90.5 199L91.5 194L93.5 189.5L97 187.5L99 189L99.5 191.5L101 191L105 194.5L102.5 196.5L99 195L97 197L96.5 200L91 200.5Z"/>
<path class="n" d="M93.5 189.5L95.5 192.5L94.5 199M97 187.5L96 192M99.5 191.5L98.5 195"/>
<path class="l" d="M91 208L95 205.5L101 205.5L103.5 209L103 214L99.5 216.5L93 216L90.5 212Z"/>
<path class="n" d="M95 205.5L94 210.5L95 216M94 210.5L100 209.5"/>
<ellipse class="n" cx="99" cy="212" rx="2.4" ry="2.8"/>
</g>

<!-- link -->
<g>
<path style="fill:none;stroke:#555;stroke-width:1.8;stroke-linecap:round" d="M199 230L193 255"/>
<path style="fill:none;stroke:#fff;stroke-width:0.5;stroke-dasharray:2 1.5" d="M199 230L193 255"/>
<path class="l" d="M196 226.5L201.5 225L202 227L199.5 230.5L197.5 230Z"/>
<circle class="n" cx="199.2" cy="227.3" r="1.1"/>
<circle class="l" cx="192.5" cy="257.5" r="2.6"/>
<path class="n" d="M189.5 256L191 254.8"/>
</g>

<!-- subframe -->
<g>
<!-- extension arm -->
<path class="l" d="M128 290.5L150.75 288.5L159.75 283.5L164.8 285.2L179.4 283L181 280L187.9 282.4L193.5 284.6L194.6 286.9L193 288L180 290.8L164 294L155 299.8L146 303.75L135 307L118 318L113 309Z"/>
<path class="n" d="M130 295.3L150.75 291.4L163 293.6L180 290.8M153 283L162.5 296M157 285L154 296M145 304L145.5 308L148.5 307M153 299L153.5 303.75L156.4 303M185 283L186 289"/>
<!-- upper web + tower -->
<path class="l" d="M52.5 251L70 247.5L72.5 248.75L76.25 238.75L81.25 236.25L83.75 241.25L83.75 252.5L87.5 257.5L96 262L99.5 274.5L130 291.75L128 295.5L114 297L108 300L85 287L60 273L47 266L55 260Z"/>
<path class="n" d="M55 260L66 256L70 260L82.5 264L92 268M72.5 248.75L76 255L82 256M76.25 238.75L79 246L83.75 252.5M66 256L70 247.5M94 283.5L114 297M100 285L108 289M103 288L112 292"/>
<path class="n" d="M58 264L70 270L80 276L88 280"/>
<path class="n" d="M62.5 274L66 271L70 276L74 273L80 278L80 282.5"/>
<!-- rail B (lower) -->
<path class="l" d="M40 264L47 266L60 273L85 287L108 300L112 305L109 307.5L96 299L51 277.5L44 272Z"/>
<path class="n" d="M47 266L51 277.5M60 280L61 286M70 285L71 291"/>
<!-- node + foot -->
<ellipse class="l" cx="112" cy="306" rx="4.5" ry="4.5"/>
<path class="l" d="M108 310.5L116.5 310L119.5 318L113 322.5L108 321Z"/>
<!-- brace -->
<path class="l" d="M105.5 240.5L113.4 241.4L92.4 290.4L86.25 287.75Z"/>
<ellipse class="l" cx="109.5" cy="240" rx="4.5" ry="2.5" transform="rotate(15 109.5 240)"/>
<path class="n" d="M96 250L99 244L103 246M96 258L99 254"/>
<!-- bushing -->
<ellipse class="l" cx="50" cy="255" rx="3.2" ry="3"/>
<!-- left bracket -->
<path class="n" d="M39 266.75L47 257.75M39 266.75V281L41 281V271L45 270M46 276L45 282L47 282"/>
<path class="n" d="M49 258L58 263L70 273L78 277L89 281"/>
</g>

<!-- lower arms -->
<g>
<path class="l" d="M115.2 345.8C120 345.8 124 345.6 127 345.3C131 344.5 134 342 136.8 341.5C140 341 144 341.2 146.6 342C150 343.5 152 344.8 154.2 345.8L154.2 349C151 348 148 346.5 145.5 345.8C143 345.3 140 345 138 345.3C134 346 131 348 127 348.5L115.2 349.6Z"/>
<path class="l" d="M108 342.6L113 342.6A3.8 4.9 0 0 1 113 352.3L108 352.3A3.8 4.9 0 0 1 108 342.6Z"/>
<ellipse class="n" cx="108" cy="347.5" rx="2.3" ry="4.9"/>
<path class="n" d="M106.5 347.5H114.5"/>
<path class="l" d="M154.2 345.5L157.5 344.75L160.1 346L160.1 350L157.5 351.8L154.2 350.5Z"/>
<path class="l" d="M155.5 352L157.8 352L158 358.3L155.5 358.3Z"/>
<ellipse class="l" cx="177.25" cy="338.75" rx="3.5" ry="3.9" transform="rotate(-30 177.25 338.75)"/>
<ellipse class="n" cx="176.5" cy="338.5" rx="1.6" ry="2.8" transform="rotate(-30 176.5 338.5)"/>
<path class="l" d="M180 340L197 357L195 359L178 342Z"/>
<path class="l" d="M195 357C196 355.5 199 355.5 201.5 356.5C203.5 358 204.2 361 203.8 363.5C203 365.5 200 365.8 198 364.5C196 363 194.5 360 195 357Z"/>
<path class="l" d="M200 353.2L202.6 353L202.5 357.5L200.2 357.5Z"/>
<ellipse class="n" cx="200" cy="361" rx="2" ry="2"/>
<path class="l" d="M104.4 366.5C105 365 110 364.5 112 366L112.2 372.5C112 375 110 376 107 376C104.5 375.8 103.2 374 103.2 371.5Z"/>
<path class="n" d="M104.4 366.5C105.5 369 110 369.5 112 367.5"/>
<circle class="n" cx="107.3" cy="371.5" r="2.2"/>
</g>
</svg>
</body></html>
